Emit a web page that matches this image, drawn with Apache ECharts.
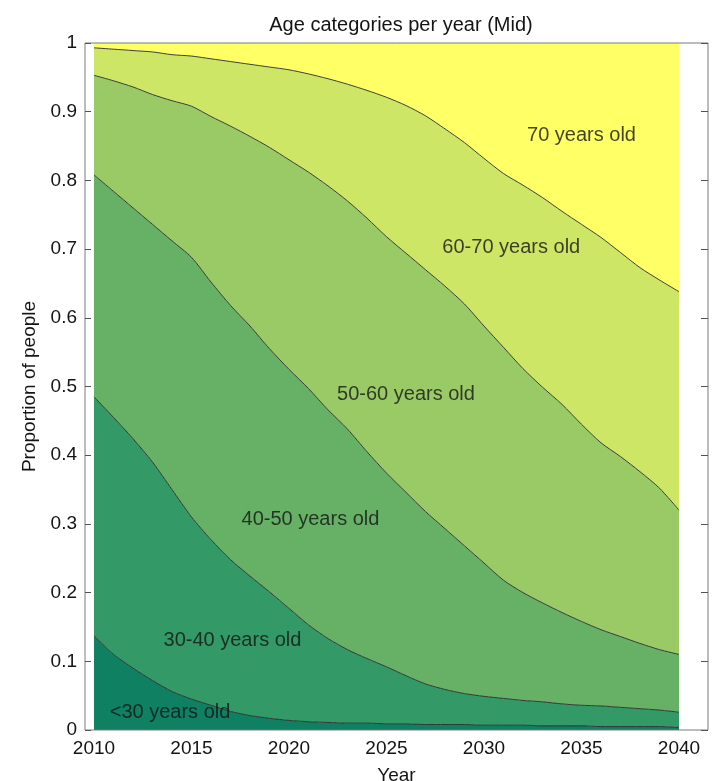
<!DOCTYPE html>
<html>
<head>
<meta charset="utf-8">
<script src="https://cdn.jsdelivr.net/npm/echarts@6/dist/echarts.min.js"></script>
<style>
html,body{margin:0;padding:0;background:#fff;}
#chart{width:715px;height:781px;}
</style>
</head>
<body>
<div id="chart"></div>
<script>
var years = [2010,2011,2012,2013,2014,2015,2016,2017,2018,2019,2020,2021,2022,2023,2024,2025,2026,2027,2028,2029,2030,2031,2032,2033,2034,2035,2036,2037,2038,2039,2040];
var categories = ['<30 years old','30-40 years old','40-50 years old','50-60 years old','60-70 years old','70 years old'];
var under30  = [.137,.110,.090,.072,.056,.045,.036,.027,.021,.017,.014,.012,.011,.010,.010,.009,.009,.008,.008,.008,.007,.007,.007,.006,.006,.006,.005,.005,.005,.005,.004];
var age30_40 = [.348,.345,.334,.318,.294,.265,.241,.221,.203,.184,.163,.141,.122,.107,.094,.083,.070,.059,.051,.045,.042,.039,.036,.035,.032,.030,.030,.028,.026,.024,.022];
var age40_50 = [.323,.329,.336,.346,.362,.378,.375,.370,.364,.354,.348,.344,.333,.321,.301,.282,.267,.251,.234,.215,.194,.172,.157,.144,.133,.122,.111,.103,.095,.088,.084];
var age50_60 = [.145,.161,.176,.189,.204,.220,.241,.261,.276,.293,.305,.315,.326,.332,.340,.344,.348,.352,.353,.352,.345,.339,.326,.314,.303,.287,.272,.262,.250,.235,.210];
var age60_70 = [.040,.046,.053,.062,.067,.073,.084,.094,.105,.117,.131,.143,.156,.170,.186,.203,.215,.224,.229,.235,.244,.253,.267,.276,.281,.291,.299,.297,.297,.303,.318];
var age70    = [.007,.009,.011,.013,.017,.019,.023,.027,.031,.035,.039,.045,.052,.060,.069,.079,.091,.106,.125,.145,.168,.190,.207,.225,.245,.264,.283,.305,.327,.345,.362];
var colors = ['#0f8062','#339966','#66b166','#99ca66','#cde666','#ffff66'];
// label anchor positions (year, proportion)
var labelYears  = [2013.9, 2017.1, 2021.1, 2026.0, 2031.4, 2035.0];
var labelValues = [0.026, 0.131, 0.306, 0.489, 0.703, 0.865];

var seriesValues = [under30, age30_40, age40_50, age50_60, age60_70, age70];
var FONT = '"Liberation Sans", Arial, Helvetica, sans-serif';
var TXT = '#141414';

var series = [];
seriesValues.forEach(function (vals, i) {
  series.push({
    name: categories[i], type: 'line', stack: 'area', xAxisIndex: 0, yAxisIndex: 0,
    data: vals, symbol: 'none', smooth: 0.25, z: 2,
    lineStyle: { width: 0 },
    areaStyle: { color: colors[i], opacity: 1 },
    itemStyle: { color: colors[i] },
    silent: true
  });
});
seriesValues.slice(0, 5).forEach(function (vals, i) {
  series.push({
    name: 'b' + i, type: 'line', stack: 'lines', xAxisIndex: 0, yAxisIndex: 0,
    data: vals, symbol: 'none', smooth: 0.25, z: 3,
    lineStyle: { width: 0.9, color: '#2a2a2a' },
    silent: true
  });
});
series.push({
  type: 'scatter', xAxisIndex: 2, yAxisIndex: 0, symbolSize: 0, z: 5, silent: true,
  data: categories.map(function (c, i) { return { name: c, value: [labelYears[i], labelValues[i]] }; }),
  label: { show: true, position: 'inside', formatter: '{b}', fontSize: 20, fontFamily: FONT, color: TXT }
});

var chart = echarts.init(document.getElementById('chart'), null, { renderer: 'canvas' });
chart.setOption({
  animation: false,
  backgroundColor: '#ffffff',
  title: {
    text: 'Age categories per year (Mid)', left: 396, textAlign: 'center', top: 10,
    textStyle: { fontSize: 20, fontWeight: 'normal', color: TXT, fontFamily: FONT }
  },
  grid: [
    { left: 94, right: 36, top: 43, bottom: 51, outerBoundsMode: 'none', containLabel: false },
    { left: 85, right: 7, top: 43, bottom: 51, outerBoundsMode: 'none', containLabel: false,
      show: true, borderColor: '#7a7a7a', borderWidth: 1, backgroundColor: 'rgba(0,0,0,0)', z: 10 }
  ],
  xAxis: [
    { gridIndex: 0, type: 'category', data: years, boundaryGap: false,
      axisLine: { show: false }, axisTick: { show: false }, splitLine: { show: false },
      axisLabel: { interval: 4, fontSize: 19, fontFamily: FONT, color: TXT, margin: 9 } },
    { gridIndex: 1, type: 'value', min: 0, max: 1, show: true,
      axisLine: { show: false }, axisTick: { show: false }, axisLabel: { show: false }, splitLine: { show: false },
      name: 'Year', nameLocation: 'middle', nameGap: 36,
      nameTextStyle: { fontSize: 19, fontFamily: FONT, color: TXT } },
    { gridIndex: 0, type: 'value', show: false, min: 2010, max: 2040 }
  ],
  yAxis: [
    { gridIndex: 0, type: 'value', min: 0, max: 1, show: false },
    { gridIndex: 1, type: 'value', min: 0, max: 1, interval: 0.1, position: 'left', z: 10,
      axisLine: { show: false }, splitLine: { show: false },
      axisTick: { show: true, inside: true, length: 6, lineStyle: { color: '#555' } },
      axisLabel: { fontSize: 19, fontFamily: FONT, color: TXT, margin: 8 },
      name: 'Proportion of people', nameLocation: 'middle', nameGap: 40, nameRotate: 90,
      nameTextStyle: { fontSize: 19, fontFamily: FONT, color: TXT } },
    { gridIndex: 1, type: 'value', min: 0, max: 1, interval: 0.1, position: 'right', z: 10,
      axisLine: { show: false }, splitLine: { show: false },
      axisTick: { show: true, inside: true, length: 7, lineStyle: { color: '#555' } },
      axisLabel: { show: false } }
  ],
  series: series
});
</script>
</body>
</html>
